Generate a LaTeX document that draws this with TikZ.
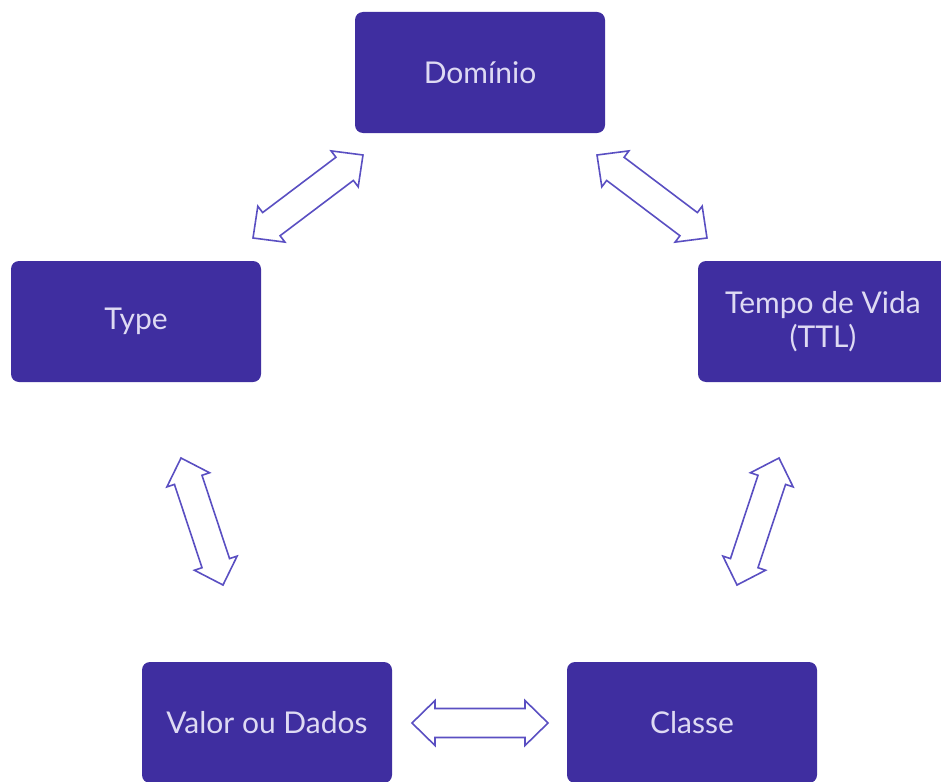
\documentclass[tikz,border=0pt]{standalone}
\usepackage{fontspec}
\setmainfont{Lato}
\usetikzlibrary{calc}
\definecolor{boxfill}{HTML}{3F2EA0}
\definecolor{boxtext}{HTML}{DEDAF3}
\definecolor{arrowline}{HTML}{5A4FC2}
\tikzset{
  card/.style={fill=boxfill, rounded corners=8pt, minimum width=250pt, minimum height=121pt,
    text=boxtext, align=center, inner sep=0pt, font=\fontsize{30}{34}\selectfont},
  blockarrow/.style={draw=arrowline, line width=1.6pt, fill=white, line join=miter}
}
\newcommand\blkarrow[2]{%
  \draw[blockarrow]
    (#1)
    -- ($ ($(#1)!23pt!(#2)$)!22.5pt!90:(#2) $)
    -- ($ ($(#1)!23pt!(#2)$)!14.5pt!90:(#2) $)
    -- ($ ($(#2)!23pt!(#1)$)!14.5pt!-90:(#1) $)
    -- ($ ($(#2)!23pt!(#1)$)!22.5pt!-90:(#1) $)
    -- (#2)
    -- ($ ($(#2)!23pt!(#1)$)!22.5pt!90:(#1) $)
    -- ($ ($(#2)!23pt!(#1)$)!14.5pt!90:(#1) $)
    -- ($ ($(#1)!23pt!(#2)$)!14.5pt!-90:(#2) $)
    -- ($ ($(#1)!23pt!(#2)$)!22.5pt!-90:(#2) $)
    -- cycle;}
\begin{document}
\begin{tikzpicture}[x=1pt,y=-1pt]
\useasboundingbox (0,0) rectangle (941,781);
\clip (0,0) rectangle (941,781);
\node[card] (dom) at (480,72.5) {Domínio};
\node[card] (type) at (136,321.5) {Type};
\node[card] (ttl) at (823,321.5) {Tempo de Vida\\(TTL)};
\node[card] (valor) at (267,722.5) {Valor ou Dados};
\node[card] (classe) at (692,722.5) {Classe};
\coordinate (a1s) at (253,238);
\coordinate (a1e) at (363,155);
\coordinate (a2s) at (597,155);
\coordinate (a2e) at (707,238);
\coordinate (a3s) at (181,458);
\coordinate (a3e) at (223,585);
\coordinate (a4s) at (779,458);
\coordinate (a4e) at (737,585);
\coordinate (a5s) at (412,723);
\coordinate (a5e) at (548,723);
\blkarrow{a1s}{a1e}
\blkarrow{a2s}{a2e}
\blkarrow{a3s}{a3e}
\blkarrow{a4s}{a4e}
\blkarrow{a5s}{a5e}
\end{tikzpicture}
\end{document}
